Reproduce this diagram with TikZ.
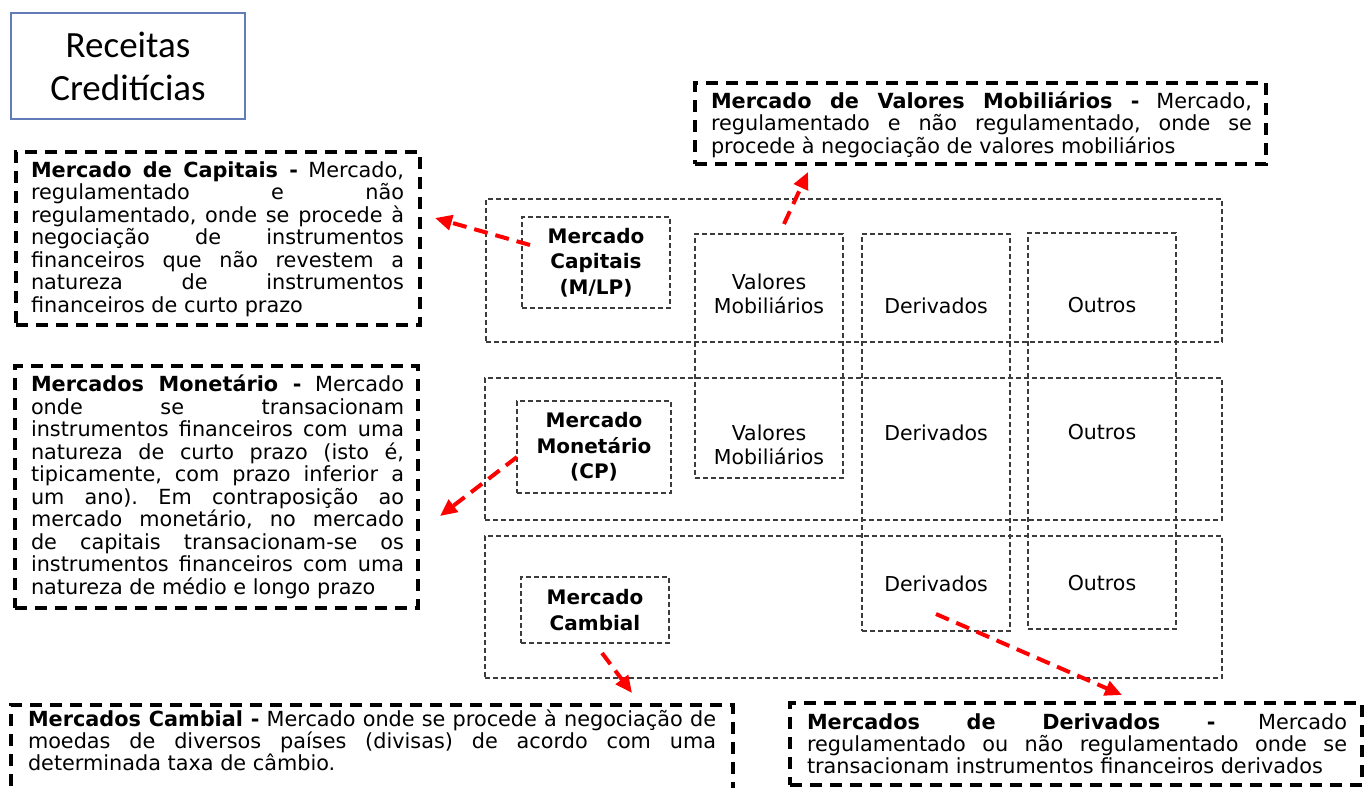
\documentclass[tikz,border=0pt]{standalone}
\usepackage{fontspec}
\setmainfont{DejaVu Sans}
\newfontfamily\calibrifont{Carlito}
\usetikzlibrary{arrows.meta,fit}
\frenchspacing

\definecolor{boxblue}{RGB}{98,124,184}
\definecolor{gridgray}{RGB}{60,60,60}
\definecolor{arrowred}{RGB}{255,0,0}

% justified text block: every full line is stretched to \colw
\newlength\colw
\newcommand\jl[1]{\hbox to \colw{#1}}
\newcommand\lastl[1]{\hbox{#1}}
\newcommand\desctext[2]{\setlength\colw{#1}\vtop{#2}}

\begin{document}
\begin{tikzpicture}[x=1pt,y=-1pt,
  every node/.style={inner sep=0pt, outer sep=0pt},
  descbox/.style={draw=black, line width=4pt, dash pattern=on 12pt off 8pt},
  gridbox/.style={draw=gridgray, line width=1.5pt, dash pattern=on 5pt off 3pt},
  desctxt/.style={anchor=base west, font=\fontsize{20.8}{22.5}\selectfont},
  desctxtb/.style={anchor=base west, font=\fontsize{20.8}{22}\selectfont},
  lbl/.style={align=center, font=\fontsize{20.5}{24}\selectfont},
  blbl/.style={align=center, font=\bfseries\fontsize{20}{25.5}\selectfont},
  redarrow/.style={draw=arrowred, line width=4pt, dash pattern=on 14pt off 8pt,
    -{Triangle[length=17pt,width=15pt]}},
]
\useasboundingbox (0,0) rectangle (1367,787);
\clip (0,0) rectangle (1367,787);

% title
\node[draw=boxblue, line width=1.5pt, fit={(11,13) (245,119)}] (title) {};
\node[font=\calibrifont\fontsize{37}{43}\selectfont, align=center] (titletext)
  at (title.center) {Receitas\\Creditícias};

% market rows
\node[gridbox, fit={(486,199) (1222,342)}] (row1) {};
\node[gridbox, fit={(485,378) (1222,520)}] (row2) {};
\node[gridbox, fit={(485,536) (1222,678)}] (row3) {};

% instrument columns
\node[gridbox, fit={(695,234) (843,478)}] (colvm) {};
\node[gridbox, fit={(862,234) (1010,631)}] (colder) {};
\node[gridbox, fit={(1028,233) (1176,629)}] (colout) {};

% market boxes
\node[gridbox, fit={(522,217) (670,308)}] (mcap) {};
\node[blbl] (mcaptext) at (mcap.center) {Mercado\\Capitais\\(M/LP)};
\node[gridbox, fit={(517,401) (671,493)}] (mmon) {};
\node[blbl] (mmontext) at (mmon.center) {Mercado\\Monetário\\(CP)};
\node[gridbox, fit={(521,577) (669,643)}] (mcam) {};
\node[blbl] (mcamtext) at (mcam.center) {Mercado\\Cambial};

% instrument labels
\node[lbl] (vm1) at (769,294) {Valores\\Mobiliários};
\node[lbl] (vm2) at (769,445) {Valores\\Mobiliários};
\node[lbl] (der1) at (936,306) {Derivados};
\node[lbl] (der2) at (936,433) {Derivados};
\node[lbl] (der3) at (936,584) {Derivados};
\node[lbl] (out1) at (1102,305) {Outros};
\node[lbl] (out2) at (1102,432) {Outros};
\node[lbl] (out3) at (1102,583) {Outros};

% definitions
\node[descbox, fit={(16,152) (420,325)}] (dcap) {};
\node[desctxt] (dcaptext) at (31,177) {\desctext{373pt}{%
  \jl{\textbf{Mercado de Capitais -} Mercado,}
  \jl{regulamentado e não}
  \jl{regulamentado, onde se procede à}
  \jl{negociação de instrumentos}
  \jl{financeiros que não revestem a}
  \jl{natureza de instrumentos}
  \lastl{financeiros de curto prazo}}};

\node[descbox, fit={(695,83) (1266,164)}] (dvm) {};
\node[desctxt] (dvmtext) at (711,108) {\desctext{541pt}{%
  \jl{\textbf{Mercado de Valores Mobiliários -} Mercado,}
  \jl{regulamentado e não regulamentado, onde se}
  \lastl{procede à negociação de valores mobiliários}}};

\node[descbox, fit={(15,366) (418,608)}] (dmon) {};
\node[desctxt] (dmontext) at (31,391.5) {\desctext{373pt}{%
  \jl{\textbf{Mercados Monetário -} Mercado}
  \jl{onde se transacionam}
  \jl{instrumentos financeiros com uma}
  \jl{natureza de curto prazo (isto é,}
  \jl{tipicamente, com prazo inferior a}
  \jl{um ano). Em contraposição ao}
  \jl{mercado monetário, no mercado}
  \jl{de capitais transacionam-se os}
  \jl{instrumentos financeiros com uma}
  \lastl{natureza de médio e longo prazo}}};

\node[descbox, fit={(11,705) (733,812)}] (dcam) {};
\node[desctxtb] (dcamtext) at (28,726) {\desctext{688pt}{%
  \jl{\textbf{Mercados Cambial -} Mercado onde se procede à negociação de}
  \jl{moedas de diversos países (divisas) de acordo com uma}
  \lastl{determinada taxa de câmbio.}}};

\node[descbox, fit={(790,703) (1362,785)}] (dder) {};
\node[desctxtb] (ddertext) at (807,729) {\desctext{540pt}{%
  \jl{\textbf{Mercados de Derivados -} Mercado}
  \jl{regulamentado ou não regulamentado onde se}
  \lastl{transacionam instrumentos financeiros derivados}}};

% pointers from the markets to their definitions
\coordinate (p1s) at (530,245);   \coordinate (p1e) at (435,218);
\coordinate (p2s) at (784,224);   \coordinate (p2e) at (808,172);
\coordinate (p3s) at (517,457);   \coordinate (p3e) at (440,516);
\coordinate (p4s) at (602,653);   \coordinate (p4e) at (632,693);
\coordinate (p5s) at (936,614);   \coordinate (p5e) at (1122,695);
\draw[redarrow] (p1s) -- (p1e);
\draw[redarrow] (p2s) -- (p2e);
\draw[redarrow] (p3s) -- (p3e);
\draw[redarrow] (p4s) -- (p4e);
\draw[redarrow] (p5s) -- (p5e);
\end{tikzpicture}
\end{document}
